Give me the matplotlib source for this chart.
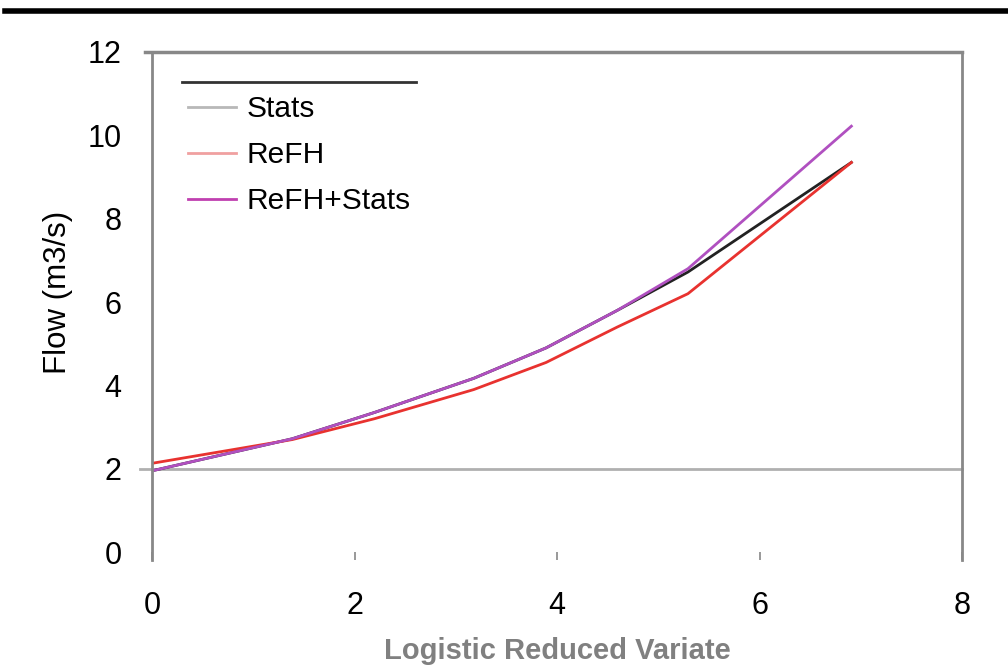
import matplotlib
matplotlib.use("Agg")
import matplotlib.pyplot as plt
from matplotlib.lines import Line2D

plt.rcParams['font.family'] = ['Liberation Sans', 'DejaVu Sans']

# logistic reduced variate at the plotted return periods
variate = [0.0, 1.386, 2.197, 3.178, 3.892, 4.595, 5.293, 6.907]
stats = [1.95, 2.72, 3.35, 4.17, 4.9, 5.8, 6.72, 9.35]
refh = [2.13, 2.70, 3.2, 3.9, 4.55, 5.4, 6.2, 9.35]
refh_stats = [1.95, 2.72, 3.35, 4.17, 4.9, 5.8, 6.8, 10.22]
series_names = ['Stats', 'ReFH', 'ReFH+Stats']

x_ticks = [0, 2, 4, 6, 8]
y_ticks = [0, 2, 4, 6, 8, 10, 12]

fig = plt.figure(figsize=(10.08, 6.7), dpi=100)
ax = fig.add_axes([0.1508, 1 - 560 / 670, 0.9544 - 0.1508, (560 - 52) / 670])

ax.plot(variate, stats, color='#222222', lw=2)
ax.plot(variate, refh, color='#e8322f', lw=2)
ax.plot(variate, refh_stats, color='#b050c0', lw=2)

# gray guide lines at 2 and 12
ax.axhline(2, xmin=-0.015, xmax=1, color='#b0b0b0', lw=2, clip_on=False, zorder=0)
ax.axhline(12, xmin=-0.009, xmax=1, color='#888888', lw=2.5, clip_on=False)

ax.set_xlim(0, 8)
ax.set_ylim(-0.19, 12)
ax.set_xticks(x_ticks)
ax.set_yticks(y_ticks)

for s in ['left', 'right']:
    ax.spines[s].set_color('#888888')
    ax.spines[s].set_linewidth(2)
ax.spines['top'].set_visible(False)
ax.spines['bottom'].set_visible(False)

ax.tick_params(axis='x', direction='in', length=6, width=1.2, color='#888888',
               labelsize=22, pad=22)
ax.tick_params(axis='y', length=0, labelsize=22, pad=22)

ax.set_xlabel('Logistic Reduced Variate', fontsize=21, fontweight='bold',
              color='#808080', labelpad=12)
ax.set_ylabel('Flow (m3/s)', fontsize=22.5)
ax.yaxis.set_label_coords(-0.098, 0.526)

# legend with its own pale handle colours
handles = [Line2D([], [], color=c, lw=2) for c in ['#b8b8b8', '#f0a0a0', '#c040b0']]
ax.legend(handles, series_names, loc='upper left', bbox_to_anchor=(0.045, 0.915),
          frameon=False, fontsize=21.5, handlelength=1.6, handletextpad=0.35,
          labelspacing=0.6, borderpad=0, borderaxespad=0)
ax.plot([0.037, 0.326], [0.941, 0.941], transform=ax.transAxes, color='#333333', lw=2,
        clip_on=False)

fig.add_artist(Line2D([0.005, 1.0], [1 - 11 / 670, 1 - 11 / 670], color='black', lw=4))

fig.savefig('out.png', dpi=100)
